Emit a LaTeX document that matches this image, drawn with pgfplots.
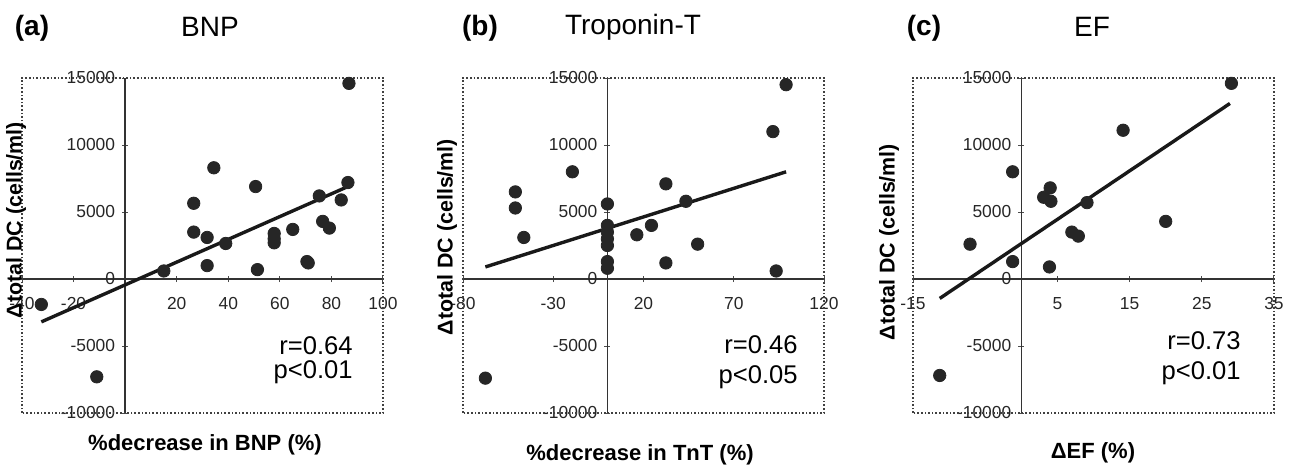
\documentclass[border=0pt]{standalone}
\usepackage{pgfplots}
\pgfplotsset{compat=1.18}
\usepackage{fontspec}
\setmainfont{Liberation Sans}

\pgfplotsset{
  panel/.style={
    scale only axis, width=180.5pt, height=167.5pt,
    anchor=south west,
    axis lines=middle,
    axis line style={-, black!80, line width=0.8pt},
    ymin=-10000, ymax=15000,
    ytick={-10000,-5000,0,5000,10000,15000},
    scaled ticks=false,
    /pgf/number format/1000 sep={},
    /pgf/number format/assume math mode=true,
    hide obscured y ticks=false,
    tick style={black!70, line width=0.5pt},
    major tick length=3pt,
    tick label style={font=\fontsize{8.7}{10}\selectfont, text=black!85},
    xticklabel style={yshift=-4pt},
    clip=false,
  },
  pts/.style={only marks, mark=*, mark size=3.1pt, mark options={fill=black!85, draw=black!85}},
  fit/.style={no markers, black!90, line width=1.7pt},
}

\begin{document}
\begin{tikzpicture}
\useasboundingbox (0,0) rectangle (649pt,-233pt);

% ---------------- (a) BNP ----------------
\begin{axis}[panel, at={(11pt,-206.5pt)}, xmin=-40, xmax=100,
  xtick={-40,-20,20,40,60,80,100}]
\draw[densely dotted, black!75, line width=0.8pt] (rel axis cs:0,0) rectangle (rel axis cs:1,1);
\addplot[pts] table {
x y
-32.5 -1900
-11 -7300
15 600
26.6 5650
26.6 3500
31.8 3100
31.8 1000
34.4 8300
39 2650
50.6 6900
51.3 700
57.8 3400
57.8 3000
57.8 2700
65 3700
70.5 1300
71 1200
75.3 6200
76.6 4300
79.2 3800
83.8 5900
86.4 7200
86.8 14600
};
\addplot[fit] coordinates {(-32.5,-3200) (86.4,6900)};
\end{axis}

% ---------------- (b) Troponin-T ----------------
\begin{axis}[panel, at={(231.5pt,-206.5pt)}, xmin=-80, xmax=120,
  xtick={-80,-30,20,70,120}]
\draw[densely dotted, black!75, line width=0.8pt] (rel axis cs:0,0) rectangle (rel axis cs:1,1);
\addplot[pts] table {
x y
-67.6 -7400
-51 6500
-51 5300
-46.3 3100
-19.4 8000
0 5600
0 4000
0 3500
0 3000
0 2500
0 1300
0 800
16.3 3300
24.4 4000
32.4 7100
32.4 1200
43.5 5800
50 2600
91.7 11000
93.5 600
99 14500
};
\addplot[fit] coordinates {(-67.6,900) (99,8000)};
\end{axis}

% ---------------- (c) EF ----------------
\begin{axis}[panel, at={(456.5pt,-206.5pt)}, xmin=-15, xmax=35,
  xtick={-15,5,15,25,35}]
\draw[densely dotted, black!75, line width=0.8pt] (rel axis cs:0,0) rectangle (rel axis cs:1,1);
\addplot[pts] table {
x y
-11.3 -7200
-7.1 2600
-1.2 8000
-1.2 1300
3.1 6100
4.0 6800
4.1 5800
3.9 900
7.0 3500
7.9 3200
9.1 5700
14.1 11100
20 4300
29.1 14600
};
\addplot[fit] coordinates {(-11.3,-1450) (28.9,13100)};
\end{axis}

% titles
\node[font=\bfseries\fontsize{14}{16}\selectfont] at (16pt,-14pt) {(a)};
\node[font=\fontsize{14}{16}\selectfont] at (105pt,-13.5pt) {BNP};
\node[font=\bfseries\fontsize{14}{16}\selectfont] at (240pt,-14pt) {(b)};
\node[font=\fontsize{14}{16}\selectfont] at (316.5pt,-13.5pt) {Troponin-T};
\node[font=\bfseries\fontsize{14}{16}\selectfont] at (462pt,-14pt) {(c)};
\node[font=\fontsize{14}{16}\selectfont] at (546pt,-13.5pt) {EF};

% axis labels
\node[font=\bfseries\fontsize{11}{13}\selectfont] at (102.5pt,-222.5pt) {\%decrease in BNP (\%)};
\node[font=\bfseries\fontsize{11}{13}\selectfont] at (320pt,-227.5pt) {\%decrease in TnT (\%)};
\node[font=\bfseries\fontsize{11}{13}\selectfont] at (546.5pt,-226.5pt) {ΔEF (\%)};
\node[font=\bfseries\fontsize{10.7}{12}\selectfont, rotate=90] at (8pt,-110pt) {Δtotal DC (cells/ml)};
\node[font=\bfseries\fontsize{10.7}{12}\selectfont, rotate=90] at (223.5pt,-118.5pt) {Δtotal DC (cells/ml)};
\node[font=\bfseries\fontsize{10.7}{12}\selectfont, rotate=90] at (444.5pt,-121pt) {Δtotal DC (cells/ml)};

% statistics
\node[font=\fontsize{12.8}{12}\selectfont, align=right, anchor=east, inner sep=0pt] at (176.5pt,-180pt) {r=0.64\\p<0.01};
\node[font=\fontsize{12.8}{15}\selectfont, align=right, anchor=east, inner sep=0pt] at (399pt,-181pt) {r=0.46\\p<0.05};
\node[font=\fontsize{12.8}{15}\selectfont, align=right, anchor=east, inner sep=0pt] at (620.5pt,-179pt) {r=0.73\\p<0.01};
\end{tikzpicture}
\end{document}
